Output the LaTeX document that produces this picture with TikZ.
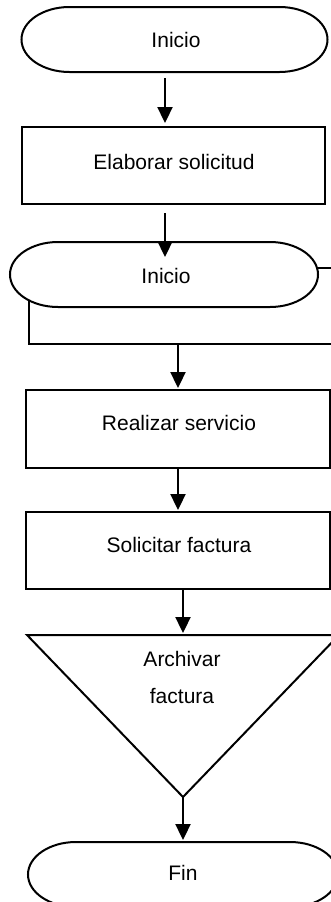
\documentclass[tikz,border=0pt]{standalone}
\usepackage{fontspec}
\setmainfont{Liberation Sans}
\usetikzlibrary{arrows.meta,calc}
\newcommand\termoutline[1]{%
  \draw[ln,fill=white] ($(#1.north west)+(48pt,0)$) -- ($(#1.north east)+(-48pt,0)$)
    arc[start angle=90,end angle=-90,x radius=48pt,y radius=32.5pt]
    -- ($(#1.south west)+(48pt,0)$)
    arc[start angle=270,end angle=90,x radius=48pt,y radius=32.5pt] -- cycle;}
\begin{document}
\begin{tikzpicture}[x=1pt,y=1pt,
  lbl/.style={font=\fontsize{21}{37}\selectfont, inner sep=0pt, align=center},
  ln/.style={line width=2pt, line join=miter},
  shapebox/.style={inner sep=0pt, outer sep=0pt},
  boxnode/.style={draw, ln, fill=white, inner sep=0pt, outer sep=0pt},
  arr/.style={line width=2.3pt, -{Triangle[length=16pt,width=15pt]}},
]
\useasboundingbox (0,0) rectangle (330,-902);
\fill[white] (0,0) rectangle (330,-902);

% shape holders for terminals
\node[shapebox, minimum width=306pt, minimum height=65pt] (t1) at (174.5,-39.5) {};
\node[shapebox, minimum width=308pt, minimum height=65pt] (t2) at (164,-274.5) {};
\node[shapebox, minimum width=310pt, minimum height=65pt] (fin) at (183,-874.5) {};

% boxes
\node[boxnode, minimum width=303pt, minimum height=77pt] (b1) at (173.5,-165.5) {};
\node[boxnode, minimum width=316pt, minimum height=76pt] (bk) at (187,-306) {};
\node[boxnode, minimum width=304pt, minimum height=78pt] (b2) at (178,-429) {};
\node[boxnode, minimum width=304pt, minimum height=77pt] (b3) at (178,-550.5) {};

% terminal outlines
\termoutline{t1}
\termoutline{t2}
\termoutline{fin}

% triangle (archive)
\coordinate (triL) at (27,-635);
\coordinate (triR) at (339,-635);
\coordinate (triB) at (183,-797);
\draw[ln, fill=white] (triL) -- (triR) -- (triB) -- cycle;

% texts
\node[lbl] (t1txt) at (176,-40) {Inicio};
\node[lbl] (b1txt) at (174,-162) {Elaborar solicitud};
\node[lbl] (t2txt) at (166,-276) {Inicio};
\node[lbl] (b2txt) at (179,-423) {Realizar servicio};
\node[lbl] (b3txt) at (179,-545) {Solicitar factura};
\node[lbl] (tritxt) at (182,-677) {Archivar\\factura};
\node[lbl] (fintxt) at (183,-873) {Fin};

% connector x positions
\coordinate (c1) at (165,0);
\coordinate (c2) at (178,0);
\coordinate (c3) at (183,0);

% arrows
\draw[arr, shorten <=6pt, shorten >=4pt] (t1.south -| c1) -- (b1.north -| c1);
\draw[arr, shorten <=9pt, shorten >=-15pt] (b1.south -| c1) -- (t2.north -| c1);
\draw[arr, shorten >=2pt] (bk.south -| c2) -- (b2.north -| c2);
\draw[arr, shorten >=2pt] (b2.south -| c2) -- (b3.north -| c2);
\draw[arr, shorten >=2pt] (b3.south -| c3) -- (triL -| c3);
\draw[arr, shorten >=2pt] (triB) -- (fin.north -| c3);
\end{tikzpicture}
\end{document}
